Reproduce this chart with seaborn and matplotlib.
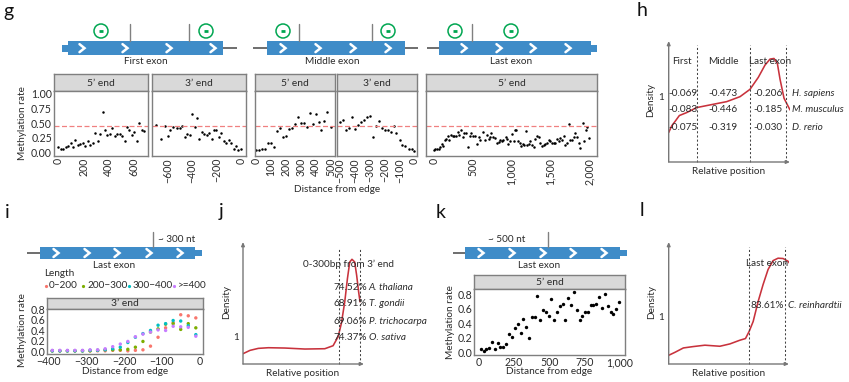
import matplotlib
matplotlib.use("Agg")
import matplotlib.pyplot as plt
import matplotlib.patches as mpatches
import pandas as pd
import seaborn as sns

sns.set_theme(style="white")
plt.rcParams["font.family"] = ["Lato", "DejaVu Sans"]
plt.rcParams["axes.unicode_minus"] = True

W, H = 849, 382
TXT = "#2b2b2b"
GRAY = "#7f7f7f"
RED = "#c8323c"

# panel g data
g1_x = [0, 21, 39, 58, 79, 97, 116, 134, 155, 174, 195, 213, 234, 253, 271, 289, 311, 329, 350, 368, 389, 408, 429, 447, 466, 487, 505, 524, 545, 563, 584, 603, 621, 639, 661, 679]
g1_y = [.09, .06, .07, .10, .12, .17, .10, .21, .135, .146, .157, .12, .20, .13, .157, .33, .20, .31, .69, .38, .30, .31, .41, .28, .32, .32, .28, .20, .43, .38, .30, .35, .19, .50, .38, .36]
g2_x = [-700, -658, -620, -600, -580, -558, -520, -500, -480, -460, -440, -420, -400, -380, -360, -340, -320, -300, -280, -260, -240, -220, -200, -180, -160, -140, -120, -100, -80, -60, -40, -20, 0]
g2_y = [.47, .24, .45, .29, .39, .44, .41, .41, .45, .27, .32, .30, .65, .44, .58, .24, .35, .31, .30, .34, .24, .39, .39, .27, .33, .20, .17, .22, .17, .06, .11, .05, .06]
g3_x = [0, 18, 37, 60, 81, 101, 122, 143, 161, 182, 203, 222, 242, 263, 284, 302, 320, 341, 360, 381, 399, 420, 438, 459, 479, 500]
g3_y = [.04, .045, .056, .07, .17, .17, .10, .37, .42, .26, .29, .40, .41, .48, .61, .51, .51, .44, .67, .48, .66, .52, .38, .53, .69, .44]
g4_x = [-500, -480, -459, -440, -420, -399, -380, -360, -339, -320, -300, -279, -260, -240, -219, -200, -180, -159, -138, -120, -99, -80, -60, -39, -18, 0]
g4_y = [.52, .56, .38, .42, .60, .40, .47, .52, .56, .60, .63, .26, .455, .54, .42, .39, .39, .35, .46, .34, .21, .135, .12, .07, .06, .03]
g5_x = [0, 21, 43, 64, 86, 103, 124, 146, 163, 185, 202, 223, 245, 266, 288, 309, 330, 356, 373, 391, 416, 442, 468, 485, 506, 532, 558, 579, 597, 635, 657, 687, 708, 725, 742, 768, 790, 811, 833, 854, 876, 897, 923, 940, 961, 987, 1004, 1026, 1039, 1060, 1082, 1103, 1120, 1142, 1163, 1185, 1202, 1223, 1240, 1262, 1283, 1305, 1326, 1348, 1369, 1391, 1412, 1433, 1455, 1476, 1498, 1519, 1541, 1562, 1584, 1605, 1627, 1648, 1670, 1691, 1712, 1734, 1755, 1777, 1798, 1820, 1841, 1863, 1884, 1914, 1936, 1957, 1974, 2000]
g5_y = [.04, .07, .07, .07, .10, .15, .11, .21, .23, .29, .21, .30, .29, .28, .28, .35, .30, .38, .26, .34, .33, .10, .29, .34, .28, .29, .15, .26, .21, .35, .22, .30, .24, .27, .34, .26, .25, .17, .18, .22, .20, .21, .27, .24, .15, .20, .31, .20, .38, .38, .19, .17, .11, .15, .13, .37, .13, .15, .19, .13, .09, .24, .29, .27, .16, .11, .13, .15, .17, .22, .20, .17, .17, .17, .23, .19, .25, .21, .28, .13, .16, .48, .21, .22, .27, .33, .26, .17, .08, .51, .19, .39, .43, .25]
g_mean = 0.46

# panel i data
i_x = [-390, -370, -350, -330, -310, -290, -270, -250, -230, -210, -190, -170, -150, -130, -110, -90, -70, -50, -30, -10]
i_labels = ["0-200", "200-300", "300-400", ">=400"]
i_a = [.01, .01, .01, .01, .01, .01, .01, .01, .02, .02, .01, .02, .03, .10, .27, .45, .55, .70, .68, .64]
i_b = [.01, .01, .01, .01, .01, .01, .02, .03, .03, .03, .04, .08, .19, .37, .43, .52, .53, .42, .53, .45]
i_c = [.01, .01, .01, .01, .01, .02, .02, .03, .05, .08, .17, .27, .34, .40, .50, .53, .59, .58, .49, .32]
i_d = [.02, .02, .02, .02, .02, .03, .03, .05, .09, .14, .19, .28, .33, .37, .41, .40, .48, .47, .46, .29]
i_colors = ["#F8766D", "#7CAE00", "#00BFC4", "#C77CFF"]

# panel k data
k_x = [19, 36, 55, 76, 95, 116, 135, 154, 173, 195, 216, 238, 257, 276, 297, 316, 337, 356, 375, 397, 416, 437, 456, 475, 496, 515, 534, 556, 575, 594, 615, 634, 656, 675, 694, 715, 734, 753, 774, 793, 812, 831, 855, 876, 895, 914, 936, 955, 974, 995]
k_y = [.04, .02, .05, .06, .14, .04, .13, .08, .08, .11, .25, .21, .34, .39, .26, .46, .35, .20, .48, .48, .77, .45, .58, .56, .50, .73, .45, .56, .63, .67, .45, .75, .65, .83, .58, .44, .50, .55, .55, .65, .65, .67, .76, .61, .80, .64, .55, .52, .60, .69]

# density curves h, j, l
h_x = [0, .026, .054, .091, .154, .239, .353, .496, .610, .695, .766, .823, .866, .900, .929, .952, .986, 1.037]
h_y = [.456, .559, .626, .718, .764, .841, .882, .933, 1.010, 1.123, 1.308, 1.497, 1.590, 1.600, 1.523, 1.277, .985, .805]
j_x = [0, .06, .131, .217, .359, .530, .701, .772, .815, .843, .872, .895, .915, .934, .957, .974, .991, 1.003]
j_y = [.392, .519, .595, .620, .608, .570, .582, .696, 1.038, 1.544, 2.367, 3.253, 3.886, 3.987, 3.886, 3.380, 2.747, 2.367]
l_x = [0, .054, .126, .211, .311, .44, .526, .611, .66, .691, .726, .769, .811, .854, .897, .94, .983, 1.026, 1.054]
l_y = [.19, .255, .35, .38, .41, .387, .438, .518, .555, .708, .927, 1.365, 1.73, 2.06, 2.254, 2.307, 2.3, 2.24, 2.146]

fig = plt.figure(figsize=(W / 100, H / 100), dpi=100, facecolor="white")


def px_axes(x0, y0, x1, y1):
    return fig.add_axes([x0 / W, 1 - y1 / H, (x1 - x0) / W, (y1 - y0) / H])


ov = fig.add_axes([0, 0, 1, 1], zorder=10)
ov.set_xlim(0, W)
ov.set_ylim(H, 0)
ov.axis("off")
ov.patch.set_alpha(0)


def label(x, y, s, size=7.2, ha="center", **kw):
    ov.text(x, y, s, fontsize=size, ha=ha, va="center", color=kw.pop("color", TXT), **kw)


def facet(rect, strip_h, title, x, y, xlim, ylim, xticks, xlabels, yticks, ylabels, size=3.2, rot=90):
    x0, y0, x1, y1 = rect
    st = px_axes(x0, y0 - strip_h, x1, y0)
    st.set_facecolor("#d9d9d9")
    st.set_xticks([])
    st.set_yticks([])
    for sp in st.spines.values():
        sp.set_color(GRAY)
        sp.set_linewidth(1.0)
    st.text(0.5, 0.47, title, transform=st.transAxes, ha="center", va="center", fontsize=7.4, color=TXT)
    ax = px_axes(x0, y0, x1, y1)
    if x is not None:
        sns.scatterplot(x=x, y=y, color="black", s=size, linewidth=0, ax=ax, legend=False)
    ax.set_xlim(*xlim)
    ax.set_ylim(*ylim)
    ax.set_xticks(xticks)
    ax.set_xticklabels(xlabels, rotation=rot, fontsize=7.6, color=TXT)
    if yticks:
        ax.set_yticks(yticks)
        ax.set_yticklabels(ylabels, fontsize=7.6, color=TXT)
    else:
        ax.set_yticks([])
    ax.tick_params(length=0, pad=1.5)
    ax.set_xlabel("")
    ax.set_ylabel("")
    for sp in ax.spines.values():
        sp.set_color(GRAY)
        sp.set_linewidth(1.0)
    return ax


ylim_g = (-0.056, 1.045)
yt = [0, .25, .5, .75, 1]
yl = ["0.00", "0.25", "0.50", "0.75", "1.00"]
g_panels = [
    ((54, 91, 148, 156), "5\u2019 end", g1_x, g1_y, (-34, 710), [0, 200, 400, 600], ["0", "200", "400", "600"], yt, yl),
    ((151.5, 91, 245.5, 156), "3\u2019 end", g2_x, g2_y, (-733, 38), [-600, -400, -200, 0], ["\u2212600", "\u2212400", "\u2212200", "0"], [], []),
    ((255, 91, 335, 156), "5\u2019 end", g3_x, g3_y, (-8, 530), [0, 100, 200, 300, 400, 500], ["0", "100", "200", "300", "400", "500"], [], []),
    ((337, 91, 417, 156), "3\u2019 end", g4_x, g4_y, (-520, 18), [-500, -400, -300, -200, -100, 0], ["\u2212500", "\u2212400", "\u2212300", "\u2212200", "\u2212100", "0"], [], []),
    ((426, 91, 597, 156), "5\u2019 end", g5_x, g5_y, (-99, 2099), [0, 500, 1000, 1500, 2000], ["0", "500", "1,000", "1,500", "2,000"], [], []),
]
for rect, title, px_, py_, xlim, xt, xl, yt_, yl_ in g_panels:
    a = facet(rect, 17, title, px_, py_, xlim, ylim_g, xt, xl, yt_, yl_)
    a.axhline(g_mean, color="#f08080", lw=0.9, ls=(0, (4, 2)), zorder=1)

label(22.5, 123, "Methylation rate", rotation=90)
label(337, 189, "Distance from edge")

# panel i
df_i = pd.DataFrame({
    "pos": i_x * 4,
    "rate": i_a + i_b + i_c + i_d,
    "length": sum([[n] * len(i_x) for n in i_labels], []),
})
ax_i = facet((47, 309, 203, 354), 11, "3\u2019 end", None, None, (-404, 9), (-0.05, 0.81),
             [-400, -300, -200, -100, 0], ["\u2212400", "\u2212300", "\u2212200", "\u2212100", "0"],
             [0, .2, .4, .6, .8], ["0.0", "0.2", "0.4", "0.6", "0.8"], rot=0)
sns.scatterplot(data=df_i, x="pos", y="rate", hue="length", palette=i_colors, s=6, linewidth=0, ax=ax_i, legend=False)
ax_i.set_xlabel("")
ax_i.set_ylabel("")
label(23, 330, "Methylation rate", rotation=90)
label(125, 371, "Distance from edge")
label(44, 274, "Length", ha="left")
for lx, tx, name, c in zip([46, 83, 129, 174], [49, 87, 132.5, 178], ["0\u2212200", "200\u2212300", "300\u2212400", ">=400"], i_colors):
    ov.plot([lx], [286], "o", ms=2.3, color=c, mew=0)
    label(tx, 286, name, ha="left")

# panel k
facet((474, 289, 625.5, 355), 14, "5\u2019 end", k_x, k_y, (-33, 1040), (-0.036, 0.87),
      [0, 250, 500, 750, 1000], ["0", "250", "500", "750", "1,000"],
      [0, .2, .4, .6, .8], ["0.0", "0.2", "0.4", "0.6", "0.8"], size=6, rot=0)
label(451, 322, "Methylation rate", rotation=90)
label(549, 371, "Distance from edge")


# density panels
def density(rect, x, y, xlim, ylim, vlines, vtop):
    ax = px_axes(*rect)
    sns.lineplot(x=x, y=y, color=RED, lw=1.15, sort=False, estimator=None, ax=ax, legend=False)
    ax.set_xlim(*xlim)
    ax.set_ylim(*ylim)
    ax.axis("off")
    for v in vlines:
        ax.plot([v, v], [0, vtop], color="#444444", lw=0.75, ls=(0, (2, 2)), clip_on=False)
    x0, y0, x1, y1 = rect
    for end in [(x0, y0), (x1, y1)]:
        ov.annotate("", xy=end, xytext=(x0, y1),
                    arrowprops=dict(arrowstyle="-|>,head_width=0.08,head_length=0.18", color="#777777", lw=1.0, shrinkA=0, shrinkB=0))
    return ax


density((668.7, 41, 790, 162), h_x, h_y, (0, 1.037), (0, 1.87), [.24, .695, 1.0], 1.81)
density((243, 242, 364, 364), j_x, j_y, (0, 1.037), (0, 4.646), [.823, 1.0], 4.4)
density((668.7, 242, 789, 364), l_x, l_y, (0, 1.034), (0, 2.66), [.691, 1.0], 2.56)

label(682, 62, "First")
label(723, 62, "Middle")
label(770, 62, "Last exon")
h_rows = [(93, "-0.069", "-0.473", "-0.206", "H. sapiens"),
          (110, "-0.083", "-0.446", "-0.185", "M. musculus"),
          (127, "-0.075", "-0.319", "-0.030", "D. rerio")]
for ry, a_, b_, c_, sp in h_rows:
    label(683.3, ry, a_)
    label(723, ry, b_)
    label(767.7, ry, c_)
    label(791.7, ry, sp, ha="left", style="italic")

label(349, 264, "0-300bp from 3\u2019 end")
j_rows = [(287, "74.52%", "A. thaliana"), (304, "68.91%", "T. gondii"),
          (321, "69.06%", "P. trichocarpa"), (338, "74.37%", "O. sativa")]
for ry, a_, sp in j_rows:
    label(333.7, ry, a_, ha="left")
    label(368.7, ry, sp, ha="left", style="italic")

label(767, 264, "Last exon")
label(750.7, 305, "83.61%", ha="left")
label(788, 305, "C. reinhardtii", ha="left", style="italic")

for dx, dy, lx, ly, rx, ry in [(651, 100, 661, 97, 729, 172), (227, 302, 236, 338, 303, 373), (651.7, 302, 661, 318, 729, 373)]:
    label(dx, dy, "Density", rotation=90)
    label(lx, ly, "1")
    label(rx, ry, "Relative position")


# exon schematics
def exon(x0, x1, y0, y1, chevrons, left_line=None, right_line=None, utr_left=None, utr_right=None):
    ym = (y0 + y1) / 2
    for ln in [left_line, right_line]:
        if ln:
            ov.plot(ln, [ym, ym], color="#555555", lw=1.2, solid_capstyle="butt")
    ov.add_patch(mpatches.Rectangle((x0, y0), x1 - x0, y1 - y0, color="#3f8cc8", lw=0))
    if utr_left:
        ov.add_patch(mpatches.Rectangle((utr_left, ym - 3.4), x0 - utr_left, 6.8, color="#3f8cc8", lw=0))
    if utr_right:
        ov.add_patch(mpatches.Rectangle((x1, ym - 3.4), utr_right - x1, 6.8, color="#3f8cc8", lw=0))
    for c in chevrons:
        ov.plot([c - 2.5, c + 2.5, c - 2.5], [ym - 4, ym, ym + 4], color="white", lw=1.8, solid_joinstyle="miter")


def sites(xs, top, bottom):
    for x_ in xs:
        ov.plot([x_, x_], [top, bottom], color="#808080", lw=1.0)


def minus_circles(xs, y=31):
    for x_ in xs:
        ov.add_patch(mpatches.Circle((x_, y), 7, fill=False, ec="#00a651", lw=1.1))
        ov.plot([x_ - 2.2, x_ + 2.2], [y, y], color="#00a651", lw=2.0, solid_capstyle="butt")


exon(68, 223, 41.3, 55, [82, 125, 169, 213], right_line=(223, 237), utr_left=62)
sites([130, 189], 24, 41.3)
minus_circles([101, 206])
label(146, 62, "First exon")

exon(267, 405, 41.3, 55, [283, 318, 353, 388], left_line=(253, 267), right_line=(405, 418))
sites([299, 372], 24, 41.3)
minus_circles([283, 388])
label(332, 62, "Middle exon")

exon(439, 591, 41.3, 55, [464, 499, 533, 568], left_line=(427, 439), utr_right=597)
sites([472], 24, 41.3)
minus_circles([455, 511])
label(511, 62, "Last exon")

exon(40, 195, 247, 259, [56, 87, 117, 149, 180], left_line=(27, 40), utr_right=202)
sites([153], 232, 247)
label(158, 239, "~ 300 nt", ha="left")
label(114, 266, "Last exon")

exon(465, 620, 247, 259, [481, 512, 543, 573, 604], left_line=(453, 465), utr_right=627)
sites([548], 232, 247)
label(507, 239, "~ 500 nt")
label(539, 266, "Last exon")

# panel letters
for lx, ly, s in [(8, 12, "g"), (642, 11, "h"), (7, 212, "i"), (221, 212, "j"), (441, 212, "k"), (642, 211, "l")]:
    label(lx, ly, s, size=14, color="#111111")

fig.savefig("out.png", dpi=100)
plt.close(fig)
